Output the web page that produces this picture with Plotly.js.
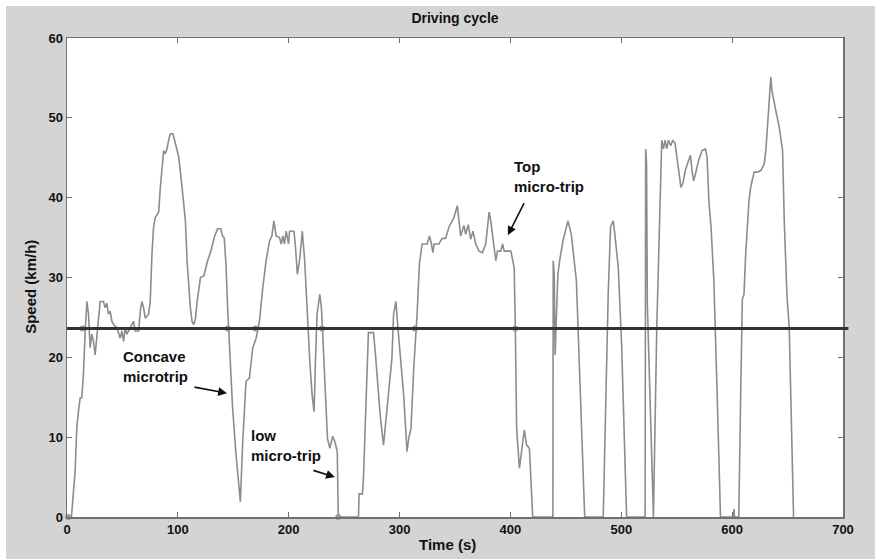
<!DOCTYPE html>
<html>
<head>
<meta charset="utf-8">
<script src="https://cdn.plot.ly/plotly-3.0.1.min.js"></script>
<style>html,body{margin:0;padding:0;background:#d4d4d4;}</style>
</head>
<body>
<div id="chart" style="width:875px;height:559px;"></div>
<script>
// Driving cycle: time (s) and speed (km/h)
const timeS = [0,1,4,7.3,8.8,10.3,11.8,13.3,14.8,16.3,17.9,19.4,20.9,22.4,23.9,25.4,26.9,28.4,29.9,32.9,34.4,35.9,37.4,38.9,40.5,42,45,48,49.5,51,52.5,54,57,58.5,60,61.6,64.6,66.1,67.6,69.1,70.6,73.6,75.1,76.6,78.1,79.6,82.7,84.2,85.7,87.2,88.7,90.2,91.7,93.2,95.6,97.7,100.8,103.8,106.8,108.3,109.8,111.3,112.8,114.4,115.9,117.4,120.4,123.4,126.8,129.8,132.8,135.8,138.8,140.3,141.8,143.4,144.9,146.4,147.9,149.4,152.5,154.6,156.4,158.5,161.5,164.5,167.6,170.6,173.6,176.6,179.6,182.7,184.8,186.6,188.7,191.7,193.2,194.7,196.2,197.7,199.8,200.8,204.7,205.9,207.8,209.9,212.3,214.4,216.9,219,221.1,222.9,224.1,225.6,228,229.5,230.4,232.6,235,237.1,239.6,241.7,243.8,244.7,262.9,263.5,266.5,267.4,268.9,270.4,271.9,276.5,278,280.4,282.5,285.5,287,290.1,293.1,294.6,296.7,298.5,300.6,303.7,306.7,308.2,310.3,312.8,315.8,317.9,320.3,324.8,327,328.8,330,331.2,335.4,338.5,341.5,344.5,349,352.1,355.1,358.1,359.6,362,364.1,366.2,368.7,371.7,374.7,377.7,380.8,382.3,383.8,386.8,388.3,391.3,392.9,394.4,400.4,403.4,404.4,405.6,408.1,410.5,412.5,414.6,417.1,420.1,438.3,438.6,439.5,440.3,442.8,444.4,447.4,451.9,454.9,459.5,462.5,467,483.7,486.1,488.2,490.3,492.7,494.2,497.3,500.3,503.3,504.8,521.5,522,522.8,523.5,525.5,527.5,529,532,535,536.5,538,539.5,541,542.5,544.6,546.4,548.5,550.2,551.8,553.8,555.6,557.7,560.8,562.3,563.8,565.3,566.8,569.8,572.9,575.9,577.4,579,581,583.5,586.5,589.5,601,601.6,602.2,606,607.7,609.2,610.7,612.2,615.2,616.7,619.8,622.8,625.8,628.9,630.4,631.8,633.4,634.9,635.8,637.9,639.4,642.5,645.5,647,649.4,651.5,654.5,655.4];
const speedKmh = [0,0,0,5.7,11.1,13.2,14.9,14.9,17.8,22.9,27.0,25.4,21.2,22.9,22.0,20.3,22.9,24.5,27.0,27.0,26.2,26.8,25.4,25.8,24.5,24.1,23.7,22.4,23.3,22.0,23.7,22.9,23.7,24.1,24.5,23.3,23.3,25.8,27.0,26.2,24.9,25.4,27.0,32.9,36.3,37.5,38.2,41.3,43.4,45.9,45.5,46.1,47.2,48.0,48.0,46.8,45.1,41.3,37.1,32.1,28.7,26.2,24.5,24.1,24.9,27.0,30.0,30.2,32.1,33.3,35.0,36.1,36.1,35.2,35.0,31.7,26.2,22.0,17.8,13.6,7.8,4.0,1.9,9.4,17.0,17.4,21.2,22.4,24.5,28.7,32.1,34.6,35.2,37.1,35.2,35.0,34.2,35.2,34.2,35.8,34.2,35.8,35.8,34.2,30.4,32.3,35.8,32.1,24.5,19.5,15.3,13.2,19.5,25.4,27.9,26.2,23.7,16.1,9.8,8.6,10.1,9.4,8.2,0,0,2.9,2.9,4.8,9.8,17.0,23.1,23.1,20.8,16.1,12.8,9.0,11.1,16.1,19.9,25.4,27.0,23.7,19.9,15.3,8.2,9.8,11.1,18.7,25.4,31.7,34.2,34.2,35.2,34.2,33.1,34.2,34.2,34.9,34.9,36.3,37.5,39.0,35.2,36.5,35.4,36.6,34.8,35.8,34.2,33.3,33.1,34.2,38.2,37.1,35.4,32.1,33.3,33.3,34.2,33.3,33.3,31.2,23.7,11.1,6.1,9.0,10.9,9.0,8.6,0,0,32.1,30.5,20.3,30.4,32.1,34.6,37.1,35.4,29.6,17.0,0,0,15.3,27.9,36.3,37.1,35.4,31.2,21.6,9.0,0,0,46.1,44.3,26.7,17.0,8.2,0,23.7,40.5,47.2,46.1,47.2,46.1,47.2,46.5,47.2,46.8,44.7,43.4,41.3,41.8,43.4,44.7,45.3,43.4,42.1,42.9,44.7,45.9,46.1,45.1,39.6,36.3,29.6,15.3,0,0,1.0,0,0,15.3,27.3,27.9,32.9,39.6,41.3,43.2,43.2,43.4,44.2,45.9,48.8,52.6,55.1,53.5,52.2,50.9,48.8,45.9,37.1,27.9,23.7,4.0,0];

// Micro-trip boundary points (grey dots)
const boundaryTime = [1,14,145,170,230,244.7,314,404.4];
const boundarySpeed = [0,23.6,23.6,23.6,23.6,0,23.6,23.6];

// Mean speed (horizontal line)
const meanSpeed = 23.6;

const xTicks = [0,100,200,300,400,500,600,700];
const yTicks = [0,10,20,30,40,50,60];

const F = '"Liberation Sans", Arial, Helvetica, sans-serif';
const tickFont = {family: F, size: 13, color: '#111', weight: 'bold'};
const annFont = {family: F, size: 15, color: '#111', weight: 'bold'};

const traces = [
  {x: timeS, y: speedKmh, type: 'scatter', mode: 'lines',
   line: {color: '#8c8c8c', width: 1.6}, hoverinfo: 'skip', showlegend: false},
  {x: boundaryTime, y: boundarySpeed, type: 'scatter', mode: 'markers',
   marker: {color: '#9a9a9a', size: 6}, cliponaxis: false, showlegend: false}
];

const axisCommon = {
  showgrid: false, zeroline: false, showline: true, linecolor: '#707070', linewidth: 1.5,
  mirror: 'ticks', ticks: 'inside', ticklen: 5, tickcolor: '#707070', tickwidth: 1,
  tickfont: tickFont, fixedrange: true
};

// plot area: 776 x 479 px
const PW = 776, PH = 479;

const layout = {
  width: 875, height: 559,
  margin: {l: 67, r: 32, t: 38, b: 42},
  paper_bgcolor: '#d4d4d4', plot_bgcolor: '#ffffff',
  title: {text: 'Driving cycle', x: 0.5, xref: 'paper', y: 0.968, yref: 'container', yanchor: 'middle',
          font: {family: F, size: 14, color: '#111', weight: 'bold'}},
  xaxis: Object.assign({}, axisCommon, {range: [0, 700], tickvals: xTicks, ticktext: xTicks.map(String)}),
  yaxis: Object.assign({}, axisCommon, {range: [0, 60], tickvals: yTicks, ticktext: yTicks.map(String)}),
  shapes: [
    {type: 'line', xref: 'paper', yref: 'y', x0: 0, x1: 1.007, y0: meanSpeed, y1: meanSpeed,
     line: {color: '#333333', width: 3}},
    // thin white page edge on top and left of the grey figure
    {type: 'rect', xref: 'paper', yref: 'paper', x0: -67/PW, x1: -61/PW, y0: -42/PH, y1: 1 + 38/PH,
     line: {width: 0}, fillcolor: '#ffffff', layer: 'below'},
    {type: 'rect', xref: 'paper', yref: 'paper', x0: -67/PW, x1: 1 + 32/PW, y0: 1 + 32/PH, y1: 1 + 38/PH,
     line: {width: 0}, fillcolor: '#ffffff', layer: 'below'}
  ],
  annotations: [
    {text: 'Speed (km/h)', xref: 'paper', yref: 'paper', x: -0.048, y: 0.48, textangle: -90,
     showarrow: false, xanchor: 'center', yanchor: 'middle', font: {family: F, size: 15, color: '#111', weight: 'bold'}},
    {text: 'Time (s)', xref: 'paper', yref: 'paper', x: 0.49, y: -0.058,
     showarrow: false, xanchor: 'center', yanchor: 'middle', font: {family: F, size: 15, color: '#111', weight: 'bold'}},
    {text: 'Concave<br>microtrip', x: 48.7, y: 18.9, xref: 'x', yref: 'y', showarrow: false,
     xanchor: 'left', yanchor: 'middle', align: 'left', font: annFont},
    {text: 'low<br>micro-trip', x: 164.1, y: 9.0, xref: 'x', yref: 'y', showarrow: false,
     xanchor: 'left', yanchor: 'middle', align: 'left', font: annFont},
    {text: 'Top<br>micro-trip', x: 401.3, y: 42.6, xref: 'x', yref: 'y', showarrow: false,
     xanchor: 'left', yanchor: 'middle', align: 'left', font: annFont},
    {text: '', x: 144.3, y: 15.5, ax: 113.6, ay: 16.3, axref: 'x', ayref: 'y', xref: 'x', yref: 'y',
     showarrow: true, arrowhead: 2, arrowsize: 1.1, arrowwidth: 1.6, arrowcolor: '#111'},
    {text: '', x: 241.7, y: 5.0, ax: 220.9, ay: 5.9, axref: 'x', ayref: 'y', xref: 'x', yref: 'y',
     showarrow: true, arrowhead: 2, arrowsize: 1.1, arrowwidth: 1.6, arrowcolor: '#111'},
    {text: '', x: 397.7, y: 35.3, ax: 413, ay: 39.5, axref: 'x', ayref: 'y', xref: 'x', yref: 'y',
     showarrow: true, arrowhead: 2, arrowsize: 1.1, arrowwidth: 1.6, arrowcolor: '#111'}
  ]
};

Plotly.newPlot('chart', traces, layout, {displayModeBar: false, staticPlot: true});
</script>
</body>
</html>
